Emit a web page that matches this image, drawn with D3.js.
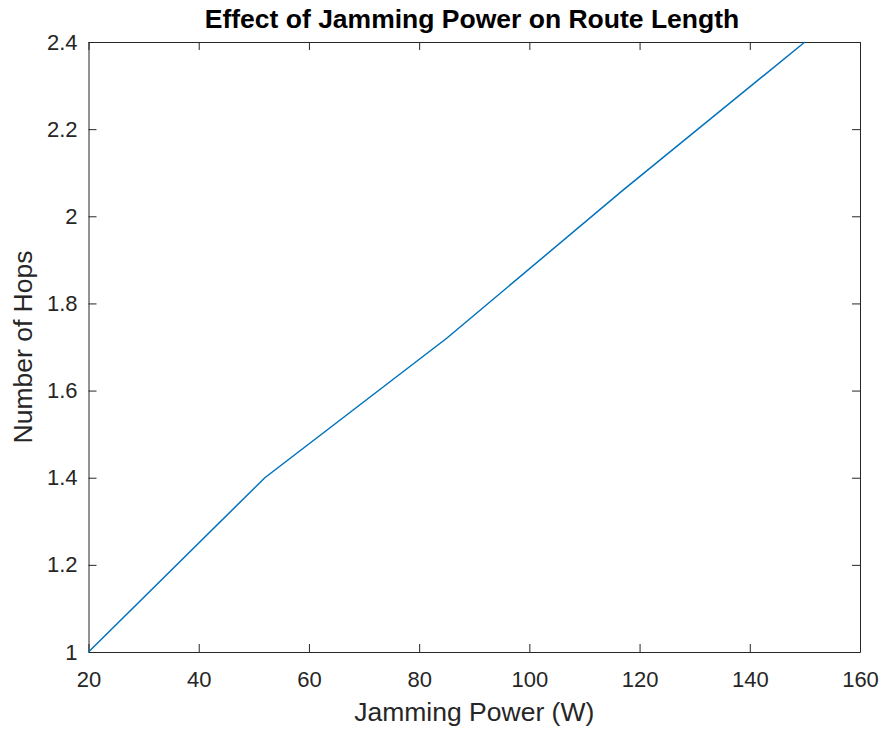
<!DOCTYPE html>
<html>
<head>
<meta charset="utf-8">
<script src="https://cdn.jsdelivr.net/npm/d3@7"></script>
<style>
  body { margin: 0; background: #fff; }
  text { font-family: "Liberation Sans", Arial, sans-serif; fill: #262626; }
</style>
</head>
<body>
<div id="chart"></div>
<script>
// data
var jamPower = [20, 52, 85, 117, 150];
var hops = [1, 1.4, 1.72, 2.06, 2.4];
var xTicks = [20, 40, 60, 80, 100, 120, 140, 160];
var yTicks = [1, 1.2, 1.4, 1.6, 1.8, 2, 2.2, 2.4];

var svgWidth = 883;
var svgHeight = 730;
var margin = { top: 42, right: 23, bottom: 78, left: 88.5 };
var width = svgWidth - margin.left - margin.right;
var height = svgHeight - margin.top - margin.bottom;

var svg = d3.select("#chart")
  .append("svg")
  .attr("width", svgWidth)
  .attr("height", svgHeight);

var g = svg.append("g")
  .attr("transform", `translate(${margin.left}, ${margin.top})`);

var x = d3.scaleLinear().domain([20, 160]).range([0, width]);
var y = d3.scaleLinear().domain([1, 2.4]).range([height, 0]);

var fmt = d => d3.format("~g")(d);

// axes, ticks point inward like a matlab box
function styleAxis(sel) {
  sel.select(".domain").attr("stroke", "#262626").attr("stroke-width", 1);
  sel.selectAll(".tick line").attr("stroke", "#262626");
  sel.selectAll("text").style("font-size", "22px").attr("fill", "#262626");
}

g.append("g")
  .attr("transform", `translate(0, ${height})`)
  .call(d3.axisBottom(x).tickValues(xTicks).tickFormat(fmt).tickSizeInner(-8).tickSizeOuter(0).tickPadding(19))
  .call(styleAxis);

g.append("g")
  .call(d3.axisTop(x).tickValues(xTicks).tickFormat("").tickSizeInner(-8).tickSizeOuter(0))
  .call(styleAxis);

g.append("g")
  .call(d3.axisLeft(y).tickValues(yTicks).tickFormat(fmt).tickSizeInner(-8).tickSizeOuter(0).tickPadding(11))
  .call(styleAxis);

g.append("g")
  .attr("transform", `translate(${width}, 0)`)
  .call(d3.axisRight(y).tickValues(yTicks).tickFormat("").tickSizeInner(-8).tickSizeOuter(0))
  .call(styleAxis);

// the line
var line = d3.line()
  .x((d, i) => x(jamPower[i]))
  .y(d => y(d));

g.append("path")
  .datum(hops)
  .attr("fill", "none")
  .attr("stroke", "#0072BD")
  .attr("stroke-width", 1.5)
  .attr("d", line);

// labels
svg.append("text")
  .attr("x", 472)
  .attr("y", 28)
  .attr("text-anchor", "middle")
  .style("font-size", "26.5px")
  .style("font-weight", "bold")
  .style("fill", "#000")
  .text("Effect of Jamming Power on Route Length");

svg.append("text")
  .attr("x", margin.left + width / 2)
  .attr("y", 721)
  .attr("text-anchor", "middle")
  .style("font-size", "26.5px")
  .text("Jamming Power (W)");

svg.append("text")
  .attr("transform", "rotate(-90)")
  .attr("x", -(margin.top + height / 2))
  .attr("y", 32)
  .attr("text-anchor", "middle")
  .style("font-size", "26.5px")
  .text("Number of Hops");
</script>
</body>
</html>
